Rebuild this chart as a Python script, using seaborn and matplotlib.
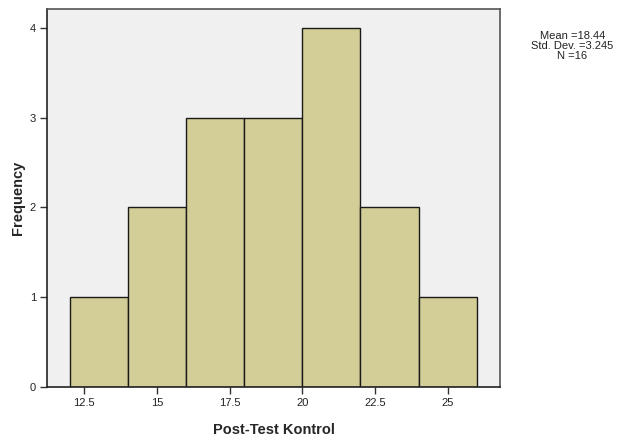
import matplotlib
matplotlib.use("Agg")
import matplotlib.pyplot as plt
import numpy as np
import seaborn as sns

# Histogram bins
bin_edges = [12, 14, 16, 18, 20, 22, 24, 26]
counts = [1, 2, 3, 3, 4, 2, 1]
x_ticks = [12.5, 15, 17.5, 20, 22.5, 25]
x_tick_labels = ["12.5", "15", "17.5", "20", "22.5", "25"]
y_ticks = [0, 1, 2, 3, 4]
stats_lines = ["Mean =18.44", "Std. Dev. =3.245", "N =16"]

sns.set_theme(style="white")
plt.rcParams["font.family"] = ["Liberation Sans", "DejaVu Sans"]

fig = plt.figure(figsize=(6.27, 4.41), dpi=100)
ax = fig.add_axes([0.075, 0.1224, 0.7224, 0.8572])
ax.set_facecolor("#F0F0F0")

centers = [(a + b) / 2 for a, b in zip(bin_edges[:-1], bin_edges[1:])]
sns.histplot(x=centers, weights=counts, bins=bin_edges, ax=ax,
             color="#D3CE97", alpha=1, edgecolor="#1a1a1a", linewidth=1.0)

ax.set_xlim(11.22, 26.8)
ax.set_ylim(0, 4.21)
ax.set_xticks(x_ticks)
ax.set_xticklabels(x_tick_labels)
ax.set_yticks(y_ticks)
ax.tick_params(axis="both", which="both", direction="out", length=5, width=1,
               color="#333333", labelsize=8, labelcolor="#222222",
               bottom=True, left=True, pad=3)

for side in ["left", "bottom"]:
    ax.spines[side].set_color("#222222")
    ax.spines[side].set_linewidth(1.2)
for side in ["top", "right"]:
    ax.spines[side].set_color("#555555")
    ax.spines[side].set_linewidth(1.2)

ax.set_xlabel("Post-Test Kontrol", fontsize=10.5, fontweight="bold", labelpad=11)
ax.set_ylabel("Frequency", fontsize=10.5, fontweight="bold", labelpad=3)

fig.text(0.913, 0.895, "\n".join(stats_lines), ha="center", va="center",
         fontsize=8, color="#222222", linespacing=1.0)

fig.savefig("out.png", dpi=100, facecolor="white")
